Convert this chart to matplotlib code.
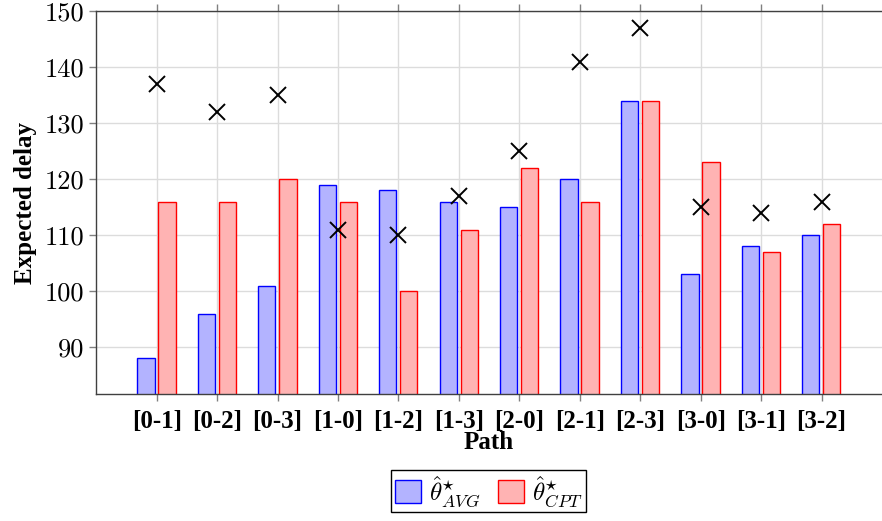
import matplotlib
matplotlib.use("Agg")
import matplotlib.pyplot as plt
import numpy as np

PATHS = ["[0-1]", "[0-2]", "[0-3]", "[1-0]", "[1-2]", "[1-3]",
         "[2-0]", "[2-1]", "[2-3]", "[3-0]", "[3-1]", "[3-2]"]
DELAY_AVG = [88, 96, 101, 119, 118, 116, 115, 120, 134, 103, 108, 110]
DELAY_CPT = [116, 116, 120, 116, 100, 111, 122, 116, 134, 123, 107, 112]
DELAY_X = [137, 132, 135, 111, 110, 117, 125, 141, 147, 115, 114, 116]
Y_TICKS = [90, 100, 110, 120, 130, 140, 150]

plt.rcParams.update({
    "font.family": "Liberation Serif",
    "mathtext.fontset": "cm",
    "font.size": 18,
})

fig = plt.figure(figsize=(8.82, 5.21), dpi=100)
ax = fig.add_axes([0.1085, 0.2443, 0.8915, 0.734])

x = np.arange(len(PATHS))
w = 0.285
ax.bar(x - 0.178, DELAY_AVG, w, color="#b3b3ff", edgecolor="#0000ff",
       linewidth=1.0, label=r"$\hat{\theta}^{\star}_{AVG}$", zorder=2)
ax.bar(x + 0.17, DELAY_CPT, w, color="#ffb3b3", edgecolor="#ff0000",
       linewidth=1.0, label=r"$\hat{\theta}^{\star}_{CPT}$", zorder=2)
ax.plot(x, DELAY_X, linestyle="none", marker="x", markersize=11,
        markeredgewidth=1.4, color="black", zorder=3)

ax.set_xlim(-1.01, 12.0)
ax.set_ylim(81.7, 150)
ax.set_xticks(x)
ax.set_xticklabels(PATHS, fontweight="bold", fontsize=18)
ax.set_yticks(Y_TICKS)
ax.set_yticklabels([str(v) for v in Y_TICKS], fontfamily="cmr10", fontsize=19)
ax.tick_params(axis="both", direction="out", length=5, width=1.0, color="#808080",
               top=True, bottom=True, left=True, right=False, pad=3)
ax.tick_params(axis="x", pad=7)

ax.grid(True, color="#dcdcdc", linewidth=1.0, zorder=0)
ax.set_axisbelow(True)
for side in ("left", "bottom", "top"):
    ax.spines[side].set_color("#404040")
    ax.spines[side].set_linewidth(1.0)
ax.spines["right"].set_visible(False)

ax.set_xlabel("Path", fontweight="bold", fontsize=18, labelpad=-2)
ax.set_ylabel("Expected delay", fontweight="bold", fontsize=18, labelpad=6)

ax.legend(loc="upper center", bbox_to_anchor=(0.5, -0.2), borderaxespad=0,
          ncol=2, fontsize=18, frameon=True, fancybox=False, edgecolor="black",
          framealpha=1, handlelength=1.05, handleheight=1.05, handletextpad=0.3,
          columnspacing=0.7, borderpad=0.15)

fig.savefig("out.png", dpi=100)
